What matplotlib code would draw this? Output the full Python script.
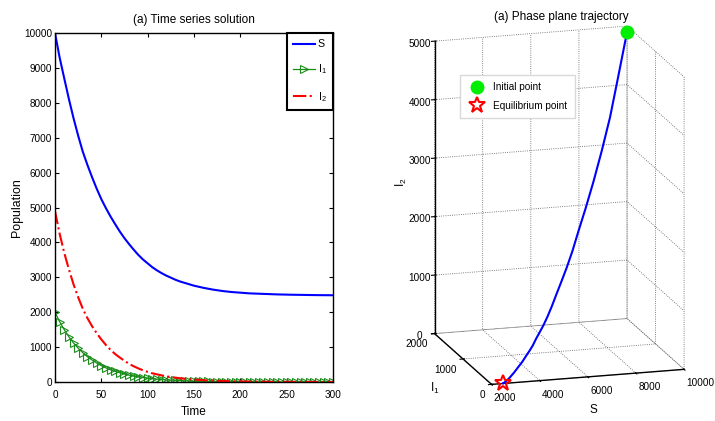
import numpy as np
import matplotlib
matplotlib.use('Agg')
import matplotlib.pyplot as plt
from matplotlib import font_manager

# MATLAB's Helvetica renders narrow; use the narrow Liberation face when present
names = {f.name for f in font_manager.fontManager.ttflist}
base = 'Liberation Sans Narrow' if 'Liberation Sans Narrow' in names else 'Liberation Sans'
k = 1.0 if base == 'Liberation Sans Narrow' else 0.85

plt.rcParams['font.family'] = [base, 'DejaVu Sans']
plt.rcParams['mathtext.fontset'] = 'custom'
plt.rcParams['mathtext.rm'] = base
plt.rcParams['mathtext.it'] = base
plt.rcParams['font.size'] = 8 * k
plt.rcParams['grid.linestyle'] = ':'
plt.rcParams['grid.color'] = '0.35'
plt.rcParams['grid.linewidth'] = 0.6

# time grid of the solution
t = np.arange(0, 305, 5)

# susceptible
S = [10000, 9300, 8700, 8110, 7560, 7060, 6600, 6220, 5870, 5540,
     5240, 4980, 4740, 4520, 4310, 4120, 3950, 3790, 3640, 3510,
     3400, 3290, 3200, 3120, 3050, 2990, 2930, 2880, 2840, 2800,
     2760, 2730, 2700, 2675, 2650, 2630, 2610, 2595, 2580, 2570,
     2560, 2550, 2540, 2535, 2530, 2525, 2520, 2515, 2510, 2507,
     2504, 2501, 2499, 2497, 2495, 2493, 2491, 2489, 2488, 2487, 2486]

# infected class 1
I1 = [2000, 1730, 1500, 1295, 1120, 970, 840, 725, 630, 545,
      470, 405, 350, 305, 265, 230, 197, 170, 147, 127,
      110, 95, 82, 71, 62, 53, 46, 40, 35, 30,
      26, 22, 19, 17, 14, 12, 11, 9, 8, 7,
      6, 5, 5, 4, 3, 3, 3, 2, 2, 2,
      2, 1, 1, 1, 1, 1, 1, 1, 0, 0, 0]

# infected class 2
I2 = [4900, 4250, 3700, 3230, 2800, 2430, 2100, 1830, 1600, 1400,
      1220, 1060, 920, 800, 700, 610, 520, 450, 390, 335,
      290, 250, 220, 190, 165, 143, 125, 108, 95, 82,
      70, 61, 52, 46, 40, 35, 30, 26, 22, 19,
      17, 15, 13, 11, 10, 9, 8, 7, 6, 6,
      5, 5, 4, 4, 3, 3, 3, 2, 2, 2, 2]

fig = plt.figure(figsize=(7.15, 4.21), dpi=100)

# ---- left: time series ----
ax1 = fig.add_axes([0.0769, 0.0926, 0.3888, 0.829])
ax1.plot(t, S, color='b', lw=1.5, label='S')
ax1.plot(t, I1, color=(0.1, 0.55, 0.1), lw=0.9, marker='>', ms=6,
         mfc='none', mew=0.8, label='I$_1$')
ax1.plot(t, I2, 'r-.', lw=1.5, label='I$_2$')
ax1.set_xlim(0, 300)
ax1.set_ylim(0, 10000)
ax1.set_xticks(range(0, 301, 50))
ax1.set_yticks(range(0, 10001, 1000))
ax1.tick_params(direction='in', top=True, right=True, length=3,
                labelsize=8.5 * k)
ax1.tick_params(axis='x', pad=6)
ax1.tick_params(axis='y', pad=2)
for sp in ax1.spines.values():
    sp.set_linewidth(1.0)
ax1.set_title('(a) Time series solution', fontsize=10 * k, pad=7)
ax1.set_xlabel('Time', fontsize=10 * k, labelpad=4)
ax1.set_ylabel('Population', fontsize=10.5 * k, labelpad=1)
leg = ax1.legend(loc='upper right', fancybox=False, edgecolor='k',
                 borderaxespad=0, borderpad=0.6, handlelength=2.0,
                 handletextpad=0.3, labelspacing=1.25, fontsize=9 * k,
                 framealpha=1)
leg.get_frame().set_linewidth(1.5)

# ---- right: phase trajectory ----
ax2 = fig.add_axes([0.5255, 0.001, 0.5, 1.0], projection='3d', proj_type='ortho')
ax2.plot(S, I1, I2, color='b', lw=1.5)
ax2.plot([S[0]], [I1[0]], [I2[0]], 'o', color='#00ee00', ms=9,
         clip_on=False, label='Initial point')
ax2.plot([S[-1]], [I1[-1]], [I2[-1]], '*', mfc='none', mec='r', mew=1.5, ms=12,
         clip_on=False, label='Equilibrium point')
ax2.set_xlim(2000, 10000)
ax2.set_ylim(0, 2000)
ax2.set_zlim(0, 5000)
ax2.set_xticks(range(2000, 10001, 2000))
ax2.set_yticks([0, 1000, 2000])
ax2.set_zticks(range(0, 5001, 1000))
for axis in (ax2.xaxis, ax2.yaxis, ax2.zaxis):
    axis.set_pane_color((1, 1, 1, 0))
    axis.pane.set_edgecolor((1, 1, 1, 0))
    axis.line.set_linewidth(1.0)
    axis.line.set_color('k')
    axis.set_rotate_label(False)
ax2.tick_params(labelsize=8.5 * k)
ax2.tick_params(axis='x', pad=-2.5)
ax2.tick_params(axis='y', pad=-3.4)
ax2.tick_params(axis='z', pad=0)
for lbl in ax2.xaxis.get_majorticklabels():
    lbl.set_ha('left')
    lbl.set_va('center')
for lbl in ax2.yaxis.get_majorticklabels():
    lbl.set_ha('right')
    lbl.set_va('center')
ax2.set_xlabel('S', fontsize=10 * k, labelpad=-8)
ax2.set_ylabel('I$_1$', fontsize=10 * k, labelpad=-5, rotation=0)
ax2.yaxis._axinfo['label']['ha'] = 'right'
ax2.yaxis._axinfo['label']['va'] = 'bottom'
ax2.set_zlabel('I$_2$', fontsize=10 * k, labelpad=-3, rotation=90)
ax2.view_init(elev=15.3, azim=-106.5)
ax2.set_box_aspect((1, 1, 1.51), zoom=1.128)
ax2.legend(loc='upper left', bbox_to_anchor=(0.636, 0.834),
           bbox_transform=fig.transFigure, fancybox=False, edgecolor='0.85',
           fontsize=8.5 * k, framealpha=1, handletextpad=0.6,
           labelspacing=0.85, borderpad=0.75)
fig.text(0.785, 0.96, '(a) Phase plane trajectory', ha='center', va='center',
         fontsize=10 * k)

fig.savefig('out.png', dpi=100)
